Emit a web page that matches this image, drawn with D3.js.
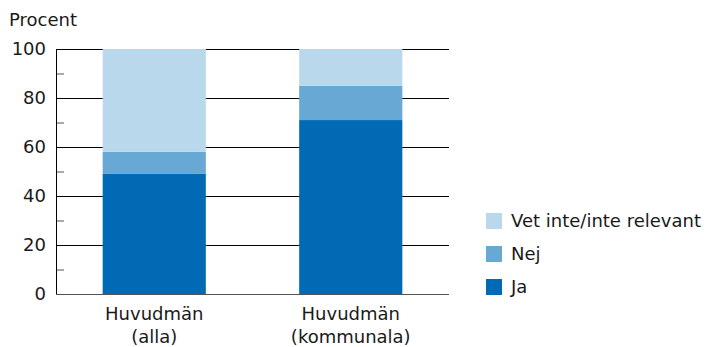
<!DOCTYPE html>
<html>
<head>
<meta charset="utf-8">
<script src="https://cdn.jsdelivr.net/npm/d3@7"></script>
<style>
body { margin: 0; background: #fff; }
text { font-family: "DejaVu Sans", Verdana, sans-serif; fill: #1a1a1a; }
</style>
</head>
<body>
<svg id="chart" width="706" height="347"></svg>
<script>
var categories = [["Huvudmän", "(alla)"], ["Huvudmän", "(kommunala)"]];
var series = ["Ja", "Nej", "Vet inte/inte relevant"];
var ja = [49, 71];
var nej = [9, 14];
var vet = [42, 15];
var majorTicks = [0, 20, 40, 60, 80, 100];
var minorTicks = [10, 30, 50, 70, 90];

var colors = {"Ja": "#006ab4", "Nej": "#68a8d4", "Vet inte/inte relevant": "#bad8eb"};

var svg = d3.select("#chart");
var margin = {top: 49, right: 257, bottom: 53, left: 56};
var width = +svg.attr("width") - margin.left - margin.right;
var height = +svg.attr("height") - margin.top - margin.bottom;

var data = categories.map(function(c, i) {
  return {key: i, "Ja": ja[i], "Nej": nej[i], "Vet inte/inte relevant": vet[i]};
});

var x = d3.scaleBand().domain(d3.range(categories.length)).range([0, width])
  .paddingInner(0.475).paddingOuter(0.2375);
var y = d3.scaleLinear().domain([0, 100]).range([height, 0]);

var g = svg.append("g").attr("transform", "translate(" + margin.left + "," + margin.top + ")");

// gridlines
g.selectAll(".grid").data(majorTicks.filter(function(d) { return d > 0; }))
  .enter().append("line")
  .attr("x1", 0).attr("x2", width)
  .attr("y1", function(d) { return y(d) + 0.5; })
  .attr("y2", function(d) { return y(d) + 0.5; })
  .attr("stroke", "#000").attr("stroke-width", 1);

g.append("line")
  .attr("x1", 0).attr("x2", width)
  .attr("y1", y(0) + 0.5).attr("y2", y(0) + 0.5)
  .attr("stroke", "#555").attr("stroke-width", 1);

g.selectAll(".minor").data(minorTicks)
  .enter().append("line")
  .attr("x1", 0).attr("x2", 8)
  .attr("y1", function(d) { return y(d) + 0.5; })
  .attr("y2", function(d) { return y(d) + 0.5; })
  .attr("stroke", "#555").attr("stroke-width", 1);

// stacked bars
var stack = d3.stack().keys(series);
var layers = stack(data);

g.selectAll(".layer").data(layers)
  .enter().append("g")
  .attr("fill", function(d) { return colors[d.key]; })
  .selectAll("rect").data(function(d) { return d; })
  .enter().append("rect")
  .attr("x", function(d) { return x(d.data.key); })
  .attr("width", x.bandwidth())
  .attr("y", function(d) { return y(d[1]); })
  .attr("height", function(d) { return y(d[0]) - y(d[1]); });

// y axis
g.append("line")
  .attr("x1", 0.5).attr("x2", 0.5)
  .attr("y1", 0).attr("y2", height)
  .attr("stroke", "#000");

g.selectAll(".ytick").data(majorTicks)
  .enter().append("text")
  .attr("x", -10)
  .attr("y", function(d) { return y(d) + 6; })
  .attr("text-anchor", "end")
  .style("font-size", "18px")
  .text(function(d) { return d; });

svg.append("text")
  .attr("x", 9).attr("y", 26)
  .style("font-size", "18px")
  .text("Procent");

// x labels
var xl = g.selectAll(".xl").data(categories)
  .enter().append("text")
  .attr("text-anchor", "middle")
  .style("font-size", "18px")
  .attr("transform", function(d, i) { return "translate(" + (x(i) + x.bandwidth() / 2) + "," + (height + 26) + ")"; });
xl.append("tspan").attr("x", 0).attr("y", 0).text(function(d) { return d[0]; });
xl.append("tspan").attr("x", 0).attr("y", 23).text(function(d) { return d[1]; });

// legend
var legendKeys = series.slice().reverse();
var legend = svg.selectAll(".legend").data(legendKeys)
  .enter().append("g")
  .attr("transform", function(d, i) { return "translate(486," + (213 + i * 33) + ")"; });
legend.append("rect").attr("width", 16).attr("height", 16)
  .attr("fill", function(d) { return colors[d]; });
legend.append("text").attr("x", 25).attr("y", 14)
  .style("font-size", "18px")
  .text(function(d) { return d; });
</script>
</body>
</html>
